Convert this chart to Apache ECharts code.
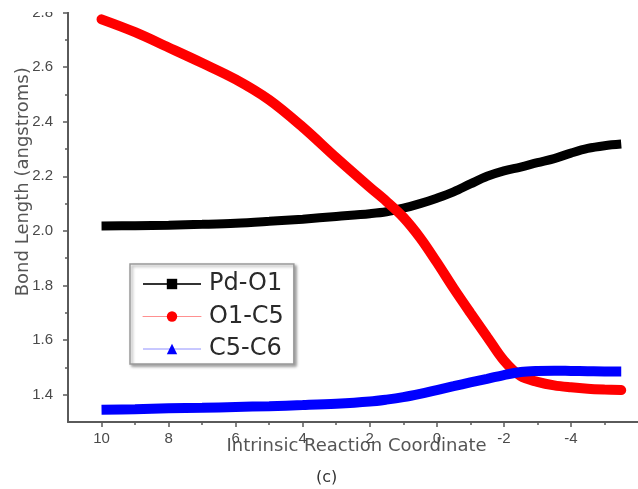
<!DOCTYPE html>
<html>
<head>
<meta charset="utf-8">
<script src="https://cdn.jsdelivr.net/npm/echarts@6/dist/echarts.min.js"></script>
<style>
html,body{margin:0;padding:0;background:#fff;}
#c{width:638px;height:489px;}
</style>
</head>
<body>
<div id="c"></div>
<script>
const xVals = [10, 9, 8, 7, 6, 5, 4, 3, 2, 1.5, 1, 0.5, 0, -0.5, -1, -1.5, -2, -2.5, -3, -3.5, -4, -4.5, -5, -5.5];
const pdO1 = [2.018, 2.019, 2.021, 2.024, 2.028, 2.035, 2.043, 2.053, 2.063, 2.070, 2.083, 2.100, 2.120, 2.143, 2.172, 2.200, 2.220, 2.234, 2.250, 2.265, 2.285, 2.302, 2.312, 2.318];
const o1C5 = [2.775, 2.728, 2.672, 2.615, 2.555, 2.480, 2.380, 2.268, 2.160, 2.108, 2.050, 1.975, 1.885, 1.790, 1.700, 1.612, 1.525, 1.468, 1.447, 1.434, 1.427, 1.422, 1.419, 1.417];
const c5C6 = [1.345, 1.347, 1.350, 1.352, 1.355, 1.358, 1.362, 1.367, 1.375, 1.382, 1.391, 1.403, 1.417, 1.431, 1.445, 1.458, 1.472, 1.483, 1.487, 1.488, 1.487, 1.486, 1.485, 1.485];
const seriesNames = ['Pd-O1', 'O1-C5', 'C5-C6'];
const xMajorTicks = [-4, -2, 0, 2, 4, 6, 8, 10];
const xMinorTicks = [-5, -3, -1, 1, 3, 5, 7, 9];
const yMajorTicks = [1.4, 1.6, 1.8, 2.0, 2.2, 2.4, 2.6, 2.8];
const yMinorTicks = [1.5, 1.7, 1.9, 2.1, 2.3, 2.5, 2.7];
const xTitle = 'Intrinsic Reaction Coordinate';
const yTitle = 'Bond Length (angstroms)';
const caption = '(c)';

const pairs = (ys) => xVals.map((x, i) => [x, ys[i]]);
const axisGray = '#5a5a5a';
const chart = echarts.init(document.getElementById('c'), null, {renderer: 'canvas'});

const option = {
  backgroundColor: '#ffffff',
  animation: false,
  grid: {left: 68, right: -22, top: 12.5, bottom: 67, containLabel: false},
  xAxis: [{
    type: 'value', inverse: true, min: -6, max: 11,
    name: xTitle, nameLocation: 'middle', nameGap: 15, nameMoveOverlap: false,
    nameTextStyle: {fontFamily: 'DejaVu Sans', fontSize: 18, color: '#555', padding: [0, 0, 0, 7]},
    axisLine: {show: true, onZero: false, lineStyle: {color: axisGray, width: 2}},
    axisTick: {show: true, length: 5, customValues: xMajorTicks, lineStyle: {color: axisGray, width: 1.5}},
    axisLabel: {customValues: xMajorTicks, margin: 9, fontFamily: 'Liberation Sans', fontSize: 15, color: '#4a4a4a'},
    splitLine: {show: false}
  }, {
    type: 'value', inverse: true, min: -6, max: 11, position: 'bottom',
    axisLine: {show: false, onZero: false},
    axisTick: {show: true, length: 3, customValues: xMinorTicks, lineStyle: {color: axisGray, width: 1.5}},
    axisLabel: {show: false},
    splitLine: {show: false}
  }],
  yAxis: [{
    type: 'value', min: 1.3, max: 2.8,
    name: yTitle, nameLocation: 'middle', nameGap: 36, nameMoveOverlap: false,
    nameTextStyle: {fontFamily: 'DejaVu Sans', fontSize: 18, color: '#555', padding: [0, 0, 0, 71]},
    axisLine: {show: true, onZero: false, lineStyle: {color: axisGray, width: 2}},
    axisTick: {show: true, length: 5, customValues: yMajorTicks, lineStyle: {color: axisGray, width: 1.5}},
    axisLabel: {customValues: yMajorTicks, margin: 15, fontFamily: 'Liberation Sans', fontSize: 15, color: '#4a4a4a',
      formatter: (v) => v.toFixed(1)},
    splitLine: {show: false}
  }, {
    type: 'value', min: 1.3, max: 2.8, position: 'left',
    axisLine: {show: false, onZero: false},
    axisTick: {show: true, length: 3, customValues: yMinorTicks, lineStyle: {color: axisGray, width: 1.5}},
    axisLabel: {show: false},
    splitLine: {show: false}
  }],
  legend: {
    orient: 'vertical', left: 130, top: 264,
    padding: [8, 10, 3, 12],
    itemWidth: 58, itemHeight: 13, itemGap: 8.5,
    backgroundColor: '#fff',
    borderColor: '#9a9a9a', borderWidth: 1.5,
    shadowBlur: 3, shadowColor: 'rgba(0,0,0,0.35)', shadowOffsetX: 2, shadowOffsetY: 2,
    textStyle: {fontFamily: 'DejaVu Sans', fontSize: 24, color: '#2a2a2a', padding: [0, 0, 0, 3]},
    data: [
      {name: seriesNames[0], lineStyle: {color: '#333', width: 2}, itemStyle: {color: '#000'}},
      {name: seriesNames[1], lineStyle: {color: '#ff9090', width: 1}, itemStyle: {color: '#ff0000'}},
      {name: seriesNames[2], lineStyle: {color: '#9090ff', width: 1}, itemStyle: {color: '#0000ff'}}
    ]
  },
  series: [
    {name: seriesNames[0], type: 'line', data: pairs(pdO1), smooth: 0.35,
     symbol: 'rect', showSymbol: false, color: '#000',
     lineStyle: {color: '#000', width: 9, cap: 'butt'}},
    {name: seriesNames[1], type: 'line', data: pairs(o1C5), smooth: 0.35,
     symbol: 'circle', showSymbol: false, color: '#ff0000',
     lineStyle: {color: '#ff0000', width: 10, cap: 'round'}},
    {name: seriesNames[2], type: 'line', data: pairs(c5C6), smooth: 0.35,
     symbol: 'triangle', showSymbol: false, color: '#0000ff',
     lineStyle: {color: '#0000ff', width: 10, cap: 'butt'}}
  ],
  graphic: [
    {type: 'rect', left: 0, top: 0, z: 100, shape: {width: 638, height: 12}, style: {fill: '#ffffff'}},
    {type: 'text', left: 316, top: 470, z: 100,
     style: {text: caption, fontFamily: 'DejaVu Sans', fontSize: 16, fill: '#333'}}
  ]
};
chart.setOption(option);
</script>
</body>
</html>
